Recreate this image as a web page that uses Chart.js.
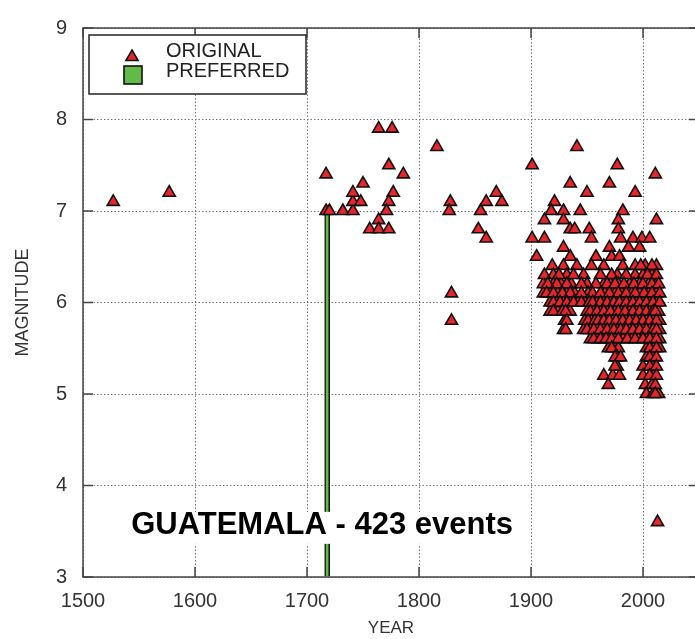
<!DOCTYPE html>
<html>
<head>
<meta charset="utf-8">
<script src="https://cdn.jsdelivr.net/npm/chart.js@4.4.1/dist/chart.umd.min.js"></script>
<style>
html,body{margin:0;padding:0;background:#fff;overflow:hidden;}
canvas{display:block;}
</style>
</head>
<body>
<canvas id="c" width="702" height="639"></canvas>
<script>
// ---- Data ----
const origYears = [
  1527,1577,1717,1717,1720,1732,1741,1741,1741,1748,1750,1764,1776,1773,1786,1777,1773,1771,1764,1756,1764,1773,
  1816,1828,1827,1855,1860,1869,1874,1853,1860,1829,1829,
  1941,1901,1935,1950,1921,1918,1929,1944,1912,1929,1935,1939,1952,1901,1912,1954,1929,1905,1935,1958,1919,1929,1941,1954,
  1977,2011,1970,1993,1982,1978,2012,1978,1980,1991,1999,2006,1970,1987,1997,1972,1979,1993,2002,2012,
  1920,1932,1947,1977,1993,2000,2008,
  1911,1920,1927,1936,1950,1965,1971,1978,1988,1997,2005,2012,
  1911,1917,1924,1932,1939,1951,1966,1975,1981,1990,1997,2005,2012,
  1917,1923,1929,1935,1942,1948,1959,1965,1971,1977,1982,1988,1994,2000,2006,2012,
  1917,1924,1935,1950,1956,1962,1968,1975,1981,1988,1994,2000,2006,2014,
  1930,1948,1954,1962,1968,1973,1979,1985,1991,1997,2003,2009,2015,
  1929,1947,1953,1959,1965,1971,1977,1982,1988,1994,2000,2006,2015,
  1953,1959,1965,1969,1975,1982,1990,1996,2003,2009,2015,
  1969,1975,1978,2003,2009,2015,
  1977,2003,2009,
  1977,2000,2009,
  1965,1973,1979,2000,2009,
  1969,2002,2008,
  2003,2009,2014,
  2013,
  // additional events in the dense 20th/21st-century cluster
  1965,1982,1998,2008,
  1912,1925,1938,1962,1972,1985,2004,2012,
  1915,1923,1932,1945,1958,1968,1975,1983,1992,2000,2008,2014,
  1914,1920,1928,1935,1945,1955,1962,1970,1978,1985,1993,2001,2008,2015,
  1920,1926,1932,1938,1945,1952,1955,1962,1968,1974,1979,1985,1991,1997,2003,2009,2015,
  1920,1928,1931,1953,1959,1965,1971,1978,1984,1991,1997,2003,2009,2011,
  1932,1951,1957,1960,1965,1970,1976,1982,1988,1994,2000,2006,2012,
  1931,1950,1956,1962,1968,1974,1980,1985,1991,1997,2003,2009,2012,
  1956,1962,1967,1972,1978,1986,1993,2000,2006,2012,
  1972,2006,2012,
  1975,1980,2006,2012,
  1975,2006,2012,
  2006,2012,
  2011,
  2011
];
const origMags = [
  7.1,7.2,7.4,7.0,7.0,7.0,7.0,7.1,7.2,7.1,7.3,7.9,7.9,7.5,7.4,7.2,7.1,7.0,6.9,6.8,6.8,6.8,
  7.7,7.1,7.0,7.0,7.1,7.2,7.1,6.8,6.7,6.1,5.8,
  7.7,7.5,7.3,7.2,7.1,7.0,7.0,7.0,6.9,6.9,6.8,6.8,6.8,6.7,6.7,6.7,6.6,6.5,6.5,6.5,6.4,6.4,6.4,6.4,
  7.5,7.4,7.3,7.2,7.0,6.9,6.9,6.8,6.7,6.7,6.7,6.7,6.6,6.6,6.6,6.5,6.5,6.4,6.4,6.4,
  6.3,6.3,6.3,6.3,6.3,6.3,6.3,
  6.2,6.2,6.2,6.2,6.2,6.2,6.2,6.2,6.2,6.2,6.2,6.2,
  6.1,6.1,6.1,6.1,6.1,6.1,6.1,6.1,6.1,6.1,6.1,6.1,6.1,
  6.0,6.0,6.0,6.0,6.0,6.0,6.0,6.0,6.0,6.0,6.0,6.0,6.0,6.0,6.0,6.0,
  5.9,5.9,5.9,5.9,5.9,5.9,5.9,5.9,5.9,5.9,5.9,5.9,5.9,5.9,
  5.8,5.8,5.8,5.8,5.8,5.8,5.8,5.8,5.8,5.8,5.8,5.8,5.8,
  5.7,5.7,5.7,5.7,5.7,5.7,5.7,5.7,5.7,5.7,5.7,5.7,5.7,
  5.6,5.6,5.6,5.6,5.6,5.6,5.6,5.6,5.6,5.6,5.6,
  5.5,5.5,5.5,5.5,5.5,5.5,
  5.4,5.4,5.4,
  5.3,5.3,5.3,
  5.2,5.2,5.2,5.2,5.2,
  5.1,5.1,5.1,
  5.0,5.0,5.0,
  3.6,
  6.4,6.4,6.4,6.4,
  6.3,6.3,6.3,6.3,6.3,6.3,6.3,6.3,
  6.2,6.2,6.2,6.2,6.2,6.2,6.2,6.2,6.2,6.2,6.2,6.2,
  6.1,6.1,6.1,6.1,6.1,6.1,6.1,6.1,6.1,6.1,6.1,6.1,6.1,6.1,
  6.0,6.0,6.0,6.0,6.0,6.0,6.0,6.0,6.0,6.0,6.0,6.0,6.0,6.0,6.0,6.0,6.0,
  5.9,5.9,5.9,5.9,5.9,5.9,5.9,5.9,5.9,5.9,5.9,5.9,5.9,5.9,
  5.8,5.8,5.8,5.8,5.8,5.8,5.8,5.8,5.8,5.8,5.8,5.8,5.8,
  5.7,5.7,5.7,5.7,5.7,5.7,5.7,5.7,5.7,5.7,5.7,5.7,5.7,
  5.6,5.6,5.6,5.6,5.6,5.6,5.6,5.6,5.6,5.6,
  5.5,5.5,5.5,
  5.4,5.4,5.4,5.4,
  5.3,5.3,5.3,
  5.2,5.2,
  5.1,
  5.0
];
const prefYears = [1718];
const prefMags = [7.0];
const xTickLabels = [1500,1600,1700,1800,1900,2000];
const yTickLabels = [3,4,5,6,7,8,9];
const seriesNames = ['ORIGINAL','PREFERRED'];
const titleText = 'GUATEMALA - 423 events';
const titleAnchor = {x: 1543, y: 3.57};

const RED = '#e8262a', GREEN = '#62bb46', EDGE = '#111';
const FONT = "'Liberation Sans', Arial, Helvetica, sans-serif";

const origData = origYears.map((x,i)=>({x, y: origMags[i]}));
const prefData = prefYears.map((x,i)=>({x, y: prefMags[i]}));

const framePlugin = {
  id: 'frame',
  afterDatasetsDraw(chart) {
    const {ctx, chartArea: a, scales: {x, y}} = chart;
    ctx.save();
    ctx.strokeStyle = '#444';
    ctx.lineWidth = 1.5;
    ctx.beginPath();
    const tl = 10;
    xTickLabels.forEach(v => {
      const px = x.getPixelForValue(v);
      ctx.moveTo(px, a.bottom); ctx.lineTo(px, a.bottom - tl);
      ctx.moveTo(px, a.top); ctx.lineTo(px, a.top + tl);
    });
    yTickLabels.forEach(v => {
      const py = y.getPixelForValue(v);
      ctx.moveTo(a.left, py); ctx.lineTo(a.left + tl, py);
      ctx.moveTo(a.right, py); ctx.lineTo(a.right - tl, py);
    });
    ctx.stroke();
    ctx.strokeRect(a.left, a.top, a.right - a.left, a.bottom - a.top);

    // title annotation with white box
    ctx.font = 'bold 31px ' + FONT;
    const tx = x.getPixelForValue(titleAnchor.x), ty = y.getPixelForValue(titleAnchor.y);
    const w = ctx.measureText(titleText).width;
    ctx.fillStyle = '#fff';
    ctx.fillRect(tx - 4, ty - 13, w + 8, 32);
    ctx.fillStyle = '#000';
    ctx.textBaseline = 'middle';
    ctx.textAlign = 'left';
    ctx.fillText(titleText, tx, ty + 1);

    // legend
    const lx = a.left + 6, ly = a.top + 7, lw = 217, lh = 59;
    ctx.fillStyle = '#fff';
    ctx.fillRect(lx, ly, lw, lh);
    ctx.strokeStyle = '#222';
    ctx.lineWidth = 1.5;
    ctx.strokeRect(lx, ly, lw, lh);
    const r = 7, cx = lx + 43, cy = ly + 22;
    ctx.beginPath();
    ctx.moveTo(cx, cy - r);
    ctx.lineTo(cx + r * Math.sqrt(3)/2, cy + r/2);
    ctx.lineTo(cx - r * Math.sqrt(3)/2, cy + r/2);
    ctx.closePath();
    ctx.fillStyle = RED; ctx.fill();
    ctx.lineWidth = 1.6; ctx.strokeStyle = EDGE; ctx.stroke();
    ctx.fillStyle = GREEN;
    ctx.fillRect(lx + 35, ly + 31, 18, 18);
    ctx.lineWidth = 1.6; ctx.strokeStyle = EDGE;
    ctx.strokeRect(lx + 35, ly + 31, 18, 18);
    ctx.fillStyle = '#222';
    ctx.font = '20px ' + FONT;
    ctx.textBaseline = 'middle';
    ctx.fillText(seriesNames[0], lx + 77, ly + 16);
    ctx.fillText(seriesNames[1], lx + 77, ly + 36);
    ctx.restore();
  }
};

new Chart(document.getElementById('c'), {
  type: 'scatter',
  data: {
    datasets: [
      {
        type: 'bar',
        label: seriesNames[1],
        data: prefData,
        base: 3,
        barThickness: 5,
        backgroundColor: GREEN,
        borderColor: EDGE,
        borderWidth: {left: 1.5, right: 1.5, top: 1.5, bottom: 0},
        borderSkipped: false,
        order: 2
      },
      {
        label: seriesNames[0],
        data: origData,
        pointStyle: 'triangle',
        pointRadius: 7,
        pointBackgroundColor: RED,
        pointBorderColor: EDGE,
        pointBorderWidth: 1.6,
        order: 1
      }
    ]
  },
  options: {
    responsive: false,
    animation: false,
    events: [],
    layout: {autoPadding: false, padding: {top: 23, right: 3, left: 0, bottom: 0}},
    plugins: {legend: {display: false}, tooltip: {enabled: false}},
    scales: {
      x: {
        type: 'linear',
        min: 1500, max: 2050,
        offset: false,
        afterFit: s => { s.height = 62; },
        afterBuildTicks: s => { s.ticks = xTickLabels.map(v => ({value: v})); },
        ticks: {font: {size: 20, family: FONT}, color: '#333', padding: 12, maxRotation: 0, autoSkip: false,
                callback: v => String(v)},
        grid: {color: '#777', lineWidth: 1, drawTicks: false, offset: false},
        border: {display: false, dash: [1.5, 2]},
        title: {display: true, text: 'YEAR', font: {size: 17, family: FONT}, color: '#333', padding: {top: 0, bottom: 0}}
      },
      y: {
        min: 3, max: 9,
        beginAtZero: false,
        afterFit: s => { s.width = 83; },
        afterBuildTicks: s => { s.ticks = yTickLabels.map(v => ({value: v})); },
        ticks: {font: {size: 20, family: FONT}, color: '#333', padding: 16, callback: v => String(v)},
        grid: {color: '#777', lineWidth: 1, drawTicks: false, offset: false},
        border: {display: false, dash: [1.5, 2]},
        title: {display: true, text: 'MAGNITUDE', font: {size: 18, family: FONT}, color: '#333', padding: {top: 12, bottom: 0}}
      }
    }
  },
  plugins: [framePlugin]
});
</script>
</body>
</html>
